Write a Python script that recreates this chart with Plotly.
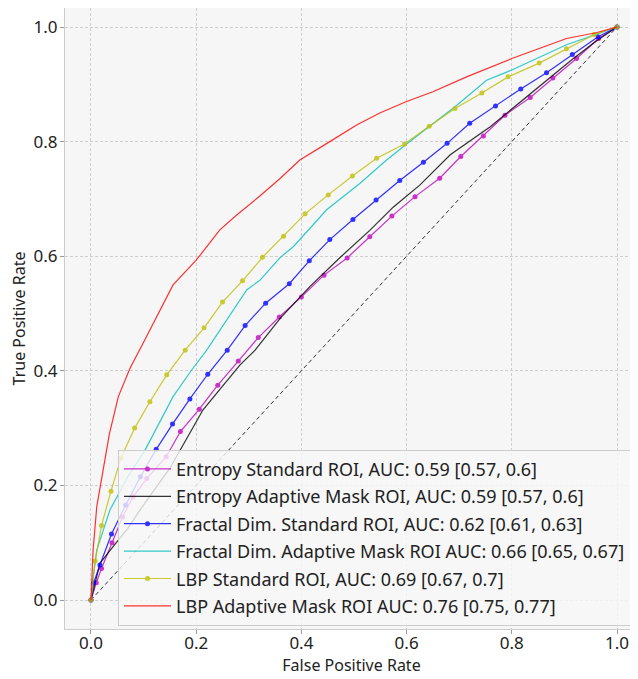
import plotly.graph_objects as go

# ---- data ----
ent_std_fpr = [0, 0.01, 0.02, 0.04, 0.06, 0.08, 0.106, 0.143, 0.17, 0.206, 0.241, 0.28, 0.318, 0.358, 0.4, 0.443, 0.487, 0.53, 0.572, 0.616, 0.663, 0.703, 0.746, 0.787, 0.835, 0.878, 0.923, 0.965, 1]
ent_std_tpr = [0, 0.03, 0.055, 0.1, 0.145, 0.18, 0.212, 0.25, 0.294, 0.333, 0.375, 0.417, 0.458, 0.494, 0.529, 0.567, 0.597, 0.634, 0.67, 0.704, 0.736, 0.774, 0.81, 0.846, 0.877, 0.911, 0.945, 0.98, 1]

ent_ada_fpr = [0, 0.01, 0.017, 0.042, 0.07, 0.093, 0.15, 0.213, 0.283, 0.312, 0.347, 0.36, 0.416, 0.475, 0.53, 0.575, 0.625, 0.683, 0.759, 0.841, 0.917, 0.96, 1]
ent_ada_tpr = [0, 0.035, 0.064, 0.093, 0.125, 0.157, 0.23, 0.332, 0.41, 0.436, 0.477, 0.492, 0.547, 0.599, 0.645, 0.686, 0.724, 0.777, 0.826, 0.887, 0.945, 0.975, 1]

fd_std_fpr = [0, 0.005, 0.017, 0.039, 0.066, 0.094, 0.124, 0.155, 0.188, 0.222, 0.259, 0.293, 0.332, 0.377, 0.415, 0.454, 0.498, 0.542, 0.587, 0.632, 0.677, 0.72, 0.769, 0.817, 0.866, 0.915, 0.964, 1]
fd_std_tpr = [0, 0.03, 0.061, 0.115, 0.166, 0.215, 0.263, 0.307, 0.351, 0.394, 0.436, 0.479, 0.518, 0.552, 0.592, 0.629, 0.664, 0.698, 0.732, 0.764, 0.797, 0.832, 0.862, 0.892, 0.92, 0.952, 0.983, 1]

fd_ada_fpr = [0, 0.004, 0.011, 0.036, 0.07, 0.103, 0.156, 0.191, 0.22, 0.245, 0.296, 0.321, 0.36, 0.385, 0.448, 0.511, 0.562, 0.6, 0.625, 0.692, 0.752, 0.8, 0.904, 1]
fd_ada_tpr = [0, 0.04, 0.087, 0.157, 0.215, 0.262, 0.355, 0.401, 0.436, 0.471, 0.541, 0.558, 0.598, 0.617, 0.681, 0.727, 0.768, 0.796, 0.814, 0.861, 0.907, 0.925, 0.969, 1]

lbp_std_fpr = [0, 0.008, 0.02, 0.038, 0.057, 0.083, 0.112, 0.144, 0.179, 0.215, 0.25, 0.288, 0.326, 0.366, 0.407, 0.451, 0.497, 0.543, 0.596, 0.643, 0.692, 0.743, 0.793, 0.852, 0.904, 0.957, 1]
lbp_std_tpr = [0, 0.068, 0.13, 0.19, 0.248, 0.30, 0.346, 0.393, 0.436, 0.475, 0.52, 0.557, 0.598, 0.635, 0.674, 0.707, 0.74, 0.771, 0.796, 0.827, 0.858, 0.885, 0.913, 0.937, 0.962, 0.987, 1]

lbp_ada_fpr = [0, 0.002, 0.004, 0.011, 0.023, 0.035, 0.052, 0.074, 0.1, 0.118, 0.156, 0.2, 0.245, 0.277, 0.321, 0.36, 0.397, 0.454, 0.505, 0.549, 0.6, 0.65, 0.714, 0.8, 0.904, 0.96, 1]
lbp_ada_tpr = [0, 0.05, 0.087, 0.163, 0.227, 0.29, 0.355, 0.404, 0.45, 0.483, 0.55, 0.593, 0.646, 0.672, 0.705, 0.736, 0.768, 0.8, 0.829, 0.85, 0.87, 0.887, 0.913, 0.945, 0.98, 0.99, 1]

labels = [
    "Entropy Standard ROI, AUC: 0.59 [0.57, 0.6]",
    "Entropy Adaptive Mask ROI, AUC: 0.59 [0.57, 0.6]",
    "Fractal Dim. Standard ROI, AUC: 0.62 [0.61, 0.63]",
    "Fractal Dim. Adaptive Mask ROI AUC: 0.66 [0.65, 0.67]",
    "LBP Standard ROI, AUC: 0.69 [0.67, 0.7]",
    "LBP Adaptive Mask ROI AUC: 0.76 [0.75, 0.77]",
]

diag = [0, 1]
ticks = [0.0, 0.2, 0.4, 0.6, 0.8, 1.0]

series = [
    (ent_std_fpr, ent_std_tpr, "#bf00bf", True),
    (ent_ada_fpr, ent_ada_tpr, "#000000", False),
    (fd_std_fpr, fd_std_tpr, "#0000ff", True),
    (fd_ada_fpr, fd_ada_tpr, "#00bfbf", False),
    (lbp_std_fpr, lbp_std_tpr, "#bfbf00", True),
    (lbp_ada_fpr, lbp_ada_tpr, "#ff0000", False),
]

fig = go.Figure()
fig.add_trace(go.Scatter(x=diag, y=diag, mode="lines", showlegend=False,
                         line=dict(color="black", width=1, dash="4px,3px"),
                         opacity=0.8))
for i, (fx, ty, col, mk) in enumerate(series):
    fig.add_trace(go.Scatter(
        x=fx, y=ty, name=labels[i], legendgroup=f"g{i}",
        mode="lines+markers" if mk else "lines",
        line=dict(color=col, width=1.2, shape="linear"),
        marker=dict(color=col, size=5),
        opacity=0.8,
    ))

axis_common = dict(
    showgrid=True, gridcolor="#cfcfcf", griddash="3px,2px", gridwidth=1,
    zeroline=False, showline=True, linecolor="#cccccc", linewidth=1,
    ticks="outside", ticklen=4, tickcolor="#999999",
    tickvals=ticks, tickformat=".1f",
    tickfont=dict(family="Noto Sans", size=17, color="#222222"),
    mirror=False, automargin=False,
)

fig.update_layout(
    width=630, height=671,
    margin=dict(l=57, r=0, t=0, b=50),
    paper_bgcolor="white", plot_bgcolor="#f6f6f6",
    font=dict(family="Noto Sans", size=16, color="#222222"),
    xaxis=dict(range=[-0.0494, 1.0399], ticklabelstandoff=-5,
               title=dict(text="False Positive Rate", font=dict(size=16), standoff=2), **axis_common),
    yaxis=dict(range=[-0.0506, 1.0332], ticklabelstandoff=-1,
               title=dict(text="True Positive Rate", font=dict(size=16), standoff=6), **axis_common),
    legend=dict(x=0.0925, y=0.2887, xanchor="left", yanchor="top",
                bgcolor="rgba(248,248,248,0.8)", bordercolor="#cccccc", borderwidth=1,
                font=dict(family="Noto Sans", size=18, color="#222222"),
                tracegroupgap=1, itemwidth=47),
)

fig.write_html("out.html")
